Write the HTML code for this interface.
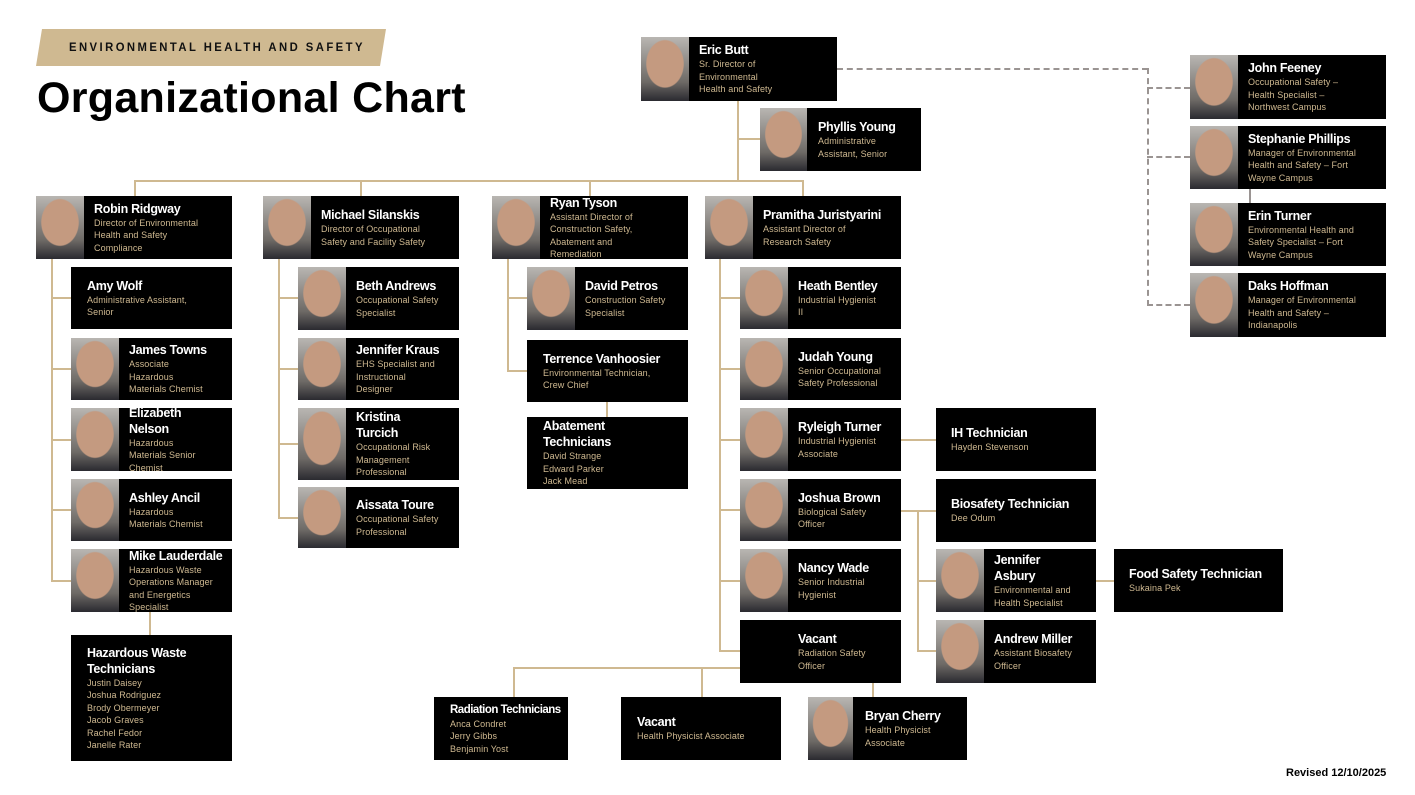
<!DOCTYPE html>
<html><head><meta charset="utf-8"><style>
*{margin:0;padding:0;box-sizing:border-box}
body{width:1415px;height:795px;background:#fff;position:relative;overflow:hidden;font-family:"Liberation Sans",Arial,sans-serif}
.b{position:absolute;background:#000;display:flex;flex-direction:column;justify-content:center;color:#fff}
.b .n{font-weight:bold;font-size:12.5px;line-height:16px;letter-spacing:-0.3px;white-space:nowrap}
.b .t{font-size:9px;line-height:12.5px;color:#cfb991;letter-spacing:0.1px}
.p{position:absolute;top:0;left:0;bottom:0;background:radial-gradient(ellipse 40% 38% at 50% 42%,#c49a80 0 95%,transparent 100%),linear-gradient(#b9b6b2,#6e6a66 70%,#2a2a30)}
.l{position:absolute;background:#cfb991}
.d{position:absolute;border-color:#9a9492;border-style:dashed;border-width:0}
</style></head><body>
<div style="position:absolute;left:36px;top:29px;width:350px;height:37px;background:#cfb991;clip-path:polygon(6px 0,100% 0,calc(100% - 6px) 100%,0 100%)"></div>
<div style="position:absolute;left:69px;top:40px;font-size:12px;font-weight:bold;letter-spacing:2.6px;color:#111;transform:scaleX(0.94);transform-origin:0 0;white-space:nowrap">ENVIRONMENTAL HEALTH AND SAFETY</div>
<div style="position:absolute;left:37px;top:74px;font-size:43px;font-weight:bold;color:#000;letter-spacing:0.3px">Organizational Chart</div>
<div style="position:absolute;left:1286px;top:767px;font-size:11px;font-weight:bold">Revised 12/10/2025</div>

<div class="l" style="left:737px;top:101px;width:2px;height:81px"></div>
<div class="l" style="left:737px;top:138px;width:23px;height:2px"></div>
<div class="l" style="left:134px;top:180px;width:670px;height:2px"></div>
<div class="l" style="left:134px;top:180px;width:2px;height:16px"></div>
<div class="l" style="left:360px;top:180px;width:2px;height:16px"></div>
<div class="l" style="left:589px;top:180px;width:2px;height:16px"></div>
<div class="l" style="left:802px;top:180px;width:2px;height:16px"></div>
<div class="l" style="left:51px;top:259px;width:2px;height:323px"></div>
<div class="l" style="left:51px;top:297px;width:20px;height:2px"></div>
<div class="l" style="left:51px;top:368px;width:20px;height:2px"></div>
<div class="l" style="left:51px;top:439px;width:20px;height:2px"></div>
<div class="l" style="left:51px;top:509px;width:20px;height:2px"></div>
<div class="l" style="left:51px;top:580px;width:20px;height:2px"></div>
<div class="l" style="left:149px;top:612px;width:2px;height:23px"></div>
<div class="l" style="left:278px;top:259px;width:2px;height:260px"></div>
<div class="l" style="left:278px;top:297px;width:20px;height:2px"></div>
<div class="l" style="left:278px;top:368px;width:20px;height:2px"></div>
<div class="l" style="left:278px;top:443px;width:20px;height:2px"></div>
<div class="l" style="left:278px;top:517px;width:20px;height:2px"></div>
<div class="l" style="left:507px;top:259px;width:2px;height:113px"></div>
<div class="l" style="left:507px;top:297px;width:20px;height:2px"></div>
<div class="l" style="left:507px;top:370px;width:20px;height:2px"></div>
<div class="l" style="left:606px;top:402px;width:2px;height:15px"></div>
<div class="l" style="left:719px;top:259px;width:2px;height:393px"></div>
<div class="l" style="left:719px;top:297px;width:21px;height:2px"></div>
<div class="l" style="left:719px;top:368px;width:21px;height:2px"></div>
<div class="l" style="left:719px;top:439px;width:21px;height:2px"></div>
<div class="l" style="left:719px;top:509px;width:21px;height:2px"></div>
<div class="l" style="left:719px;top:580px;width:21px;height:2px"></div>
<div class="l" style="left:719px;top:650px;width:21px;height:2px"></div>
<div class="l" style="left:901px;top:439px;width:35px;height:2px"></div>
<div class="l" style="left:901px;top:510px;width:35px;height:2px"></div>
<div class="l" style="left:917px;top:510px;width:2px;height:142px"></div>
<div class="l" style="left:917px;top:580px;width:19px;height:2px"></div>
<div class="l" style="left:917px;top:650px;width:19px;height:2px"></div>
<div class="l" style="left:1096px;top:580px;width:18px;height:2px"></div>
<div class="l" style="left:513px;top:667px;width:227px;height:2px"></div>
<div class="l" style="left:513px;top:667px;width:2px;height:30px"></div>
<div class="l" style="left:701px;top:667px;width:2px;height:30px"></div>
<div class="l" style="left:872px;top:683px;width:2px;height:14px"></div>
<div class="d" style="left:837px;top:68px;width:311px;border-top-width:2px"></div>
<div class="d" style="left:1147px;top:68px;height:238px;border-left-width:2px"></div>
<div class="d" style="left:1147px;top:87px;width:43px;border-top-width:2px"></div>
<div class="d" style="left:1147px;top:156px;width:43px;border-top-width:2px"></div>
<div class="d" style="left:1147px;top:304px;width:43px;border-top-width:2px"></div>
<div style="position:absolute;left:1249px;top:189px;width:2px;height:14px;background:#9a9492"></div>

<div class="b" style="left:641px;top:37px;width:196px;height:64px;padding-left:58px"><div class="p" style="width:48px"></div><div class="n">Eric Butt</div><div class="t">Sr. Director of<br>Environmental<br>Health and Safety</div></div>
<div class="b" style="left:760px;top:108px;width:161px;height:63px;padding-left:58px"><div class="p" style="width:47px"></div><div class="n">Phyllis Young</div><div class="t">Administrative<br>Assistant, Senior</div></div>
<div class="b" style="left:36px;top:196px;width:196px;height:63px;padding-left:58px"><div class="p" style="width:48px"></div><div class="n">Robin Ridgway</div><div class="t">Director of Environmental<br>Health and Safety<br>Compliance</div></div>
<div class="b" style="left:263px;top:196px;width:196px;height:63px;padding-left:58px"><div class="p" style="width:48px"></div><div class="n">Michael Silanskis</div><div class="t">Director of Occupational<br>Safety and Facility Safety</div></div>
<div class="b" style="left:492px;top:196px;width:196px;height:63px;padding-left:58px"><div class="p" style="width:48px"></div><div class="n">Ryan Tyson</div><div class="t">Assistant Director of<br>Construction Safety,<br>Abatement and<br>Remediation</div></div>
<div class="b" style="left:705px;top:196px;width:196px;height:63px;padding-left:58px"><div class="p" style="width:48px"></div><div class="n">Pramitha Juristyarini</div><div class="t">Assistant Director of<br>Research Safety</div></div>

<div class="b" style="left:71px;top:267px;width:161px;height:62px;padding-left:16px"><div class="n">Amy Wolf</div><div class="t">Administrative Assistant,<br>Senior</div></div>
<div class="b" style="left:71px;top:338px;width:161px;height:62px;padding-left:58px"><div class="p" style="width:48px"></div><div class="n">James Towns</div><div class="t">Associate<br>Hazardous<br>Materials Chemist</div></div>
<div class="b" style="left:71px;top:408px;width:161px;height:63px;padding-left:58px;overflow:hidden"><div class="p" style="width:48px"></div><div class="n">Elizabeth<br>Nelson</div><div class="t">Hazardous<br>Materials Senior<br>Chemist</div></div>
<div class="b" style="left:71px;top:479px;width:161px;height:62px;padding-left:58px"><div class="p" style="width:48px"></div><div class="n">Ashley Ancil</div><div class="t">Hazardous<br>Materials Chemist</div></div>
<div class="b" style="left:71px;top:549px;width:161px;height:63px;padding-left:58px"><div class="p" style="width:48px"></div><div class="n">Mike Lauderdale</div><div class="t">Hazardous Waste<br>Operations Manager<br>and Energetics<br>Specialist</div></div>
<div class="b" style="left:71px;top:635px;width:161px;height:126px;padding-left:16px"><div class="n">Hazardous Waste<br>Technicians</div><div class="t">Justin Daisey<br>Joshua Rodriguez<br>Brody Obermeyer<br>Jacob Graves<br>Rachel Fedor<br>Janelle Rater</div></div>

<div class="b" style="left:298px;top:267px;width:161px;height:63px;padding-left:58px"><div class="p" style="width:48px"></div><div class="n">Beth Andrews</div><div class="t">Occupational Safety<br>Specialist</div></div>
<div class="b" style="left:298px;top:338px;width:161px;height:62px;padding-left:58px"><div class="p" style="width:48px"></div><div class="n">Jennifer Kraus</div><div class="t">EHS Specialist and<br>Instructional<br>Designer</div></div>
<div class="b" style="left:298px;top:408px;width:161px;height:72px;padding-left:58px"><div class="p" style="width:48px"></div><div class="n">Kristina<br>Turcich</div><div class="t">Occupational Risk<br>Management<br>Professional</div></div>
<div class="b" style="left:298px;top:487px;width:161px;height:61px;padding-left:58px"><div class="p" style="width:48px"></div><div class="n">Aissata Toure</div><div class="t">Occupational Safety<br>Professional</div></div>

<div class="b" style="left:527px;top:267px;width:161px;height:63px;padding-left:58px"><div class="p" style="width:48px"></div><div class="n">David Petros</div><div class="t">Construction Safety<br>Specialist</div></div>
<div class="b" style="left:527px;top:340px;width:161px;height:62px;padding-left:16px"><div class="n">Terrence Vanhoosier</div><div class="t">Environmental Technician,<br>Crew Chief</div></div>
<div class="b" style="left:527px;top:417px;width:161px;height:72px;padding-left:16px"><div class="n">Abatement<br>Technicians</div><div class="t">David Strange<br>Edward Parker<br>Jack Mead</div></div>

<div class="b" style="left:740px;top:267px;width:161px;height:62px;padding-left:58px"><div class="p" style="width:48px"></div><div class="n">Heath Bentley</div><div class="t">Industrial Hygienist<br>II</div></div>
<div class="b" style="left:740px;top:338px;width:161px;height:62px;padding-left:58px"><div class="p" style="width:48px"></div><div class="n">Judah Young</div><div class="t">Senior Occupational<br>Safety Professional</div></div>
<div class="b" style="left:740px;top:408px;width:161px;height:63px;padding-left:58px"><div class="p" style="width:48px"></div><div class="n">Ryleigh Turner</div><div class="t">Industrial Hygienist<br>Associate</div></div>
<div class="b" style="left:740px;top:479px;width:161px;height:62px;padding-left:58px"><div class="p" style="width:48px"></div><div class="n">Joshua Brown</div><div class="t">Biological Safety<br>Officer</div></div>
<div class="b" style="left:740px;top:549px;width:161px;height:63px;padding-left:58px"><div class="p" style="width:48px"></div><div class="n">Nancy Wade</div><div class="t">Senior Industrial<br>Hygienist</div></div>
<div class="b" style="left:740px;top:620px;width:161px;height:63px;padding-left:58px"><div class="n">Vacant</div><div class="t">Radiation Safety<br>Officer</div></div>

<div class="b" style="left:936px;top:408px;width:160px;height:63px;padding-left:15px"><div class="n">IH Technician</div><div class="t">Hayden Stevenson</div></div>
<div class="b" style="left:936px;top:479px;width:160px;height:63px;padding-left:15px"><div class="n">Biosafety Technician</div><div class="t">Dee Odum</div></div>
<div class="b" style="left:936px;top:549px;width:160px;height:63px;padding-left:58px"><div class="p" style="width:48px"></div><div class="n">Jennifer<br>Asbury</div><div class="t">Environmental and<br>Health Specialist</div></div>
<div class="b" style="left:936px;top:620px;width:160px;height:63px;padding-left:58px"><div class="p" style="width:48px"></div><div class="n">Andrew Miller</div><div class="t">Assistant Biosafety<br>Officer</div></div>
<div class="b" style="left:1114px;top:549px;width:169px;height:63px;padding-left:15px"><div class="n">Food Safety Technician</div><div class="t">Sukaina Pek</div></div>

<div class="b" style="left:434px;top:697px;width:134px;height:63px;padding-left:16px"><div class="n" style="font-size:11.5px;letter-spacing:-0.5px">Radiation Technicians</div><div class="t">Anca Condret<br>Jerry Gibbs<br>Benjamin Yost</div></div>
<div class="b" style="left:621px;top:697px;width:160px;height:63px;padding-left:16px"><div class="n">Vacant</div><div class="t">Health Physicist Associate</div></div>
<div class="b" style="left:808px;top:697px;width:159px;height:63px;padding-left:57px"><div class="p" style="width:45px"></div><div class="n">Bryan Cherry</div><div class="t">Health Physicist<br>Associate</div></div>

<div class="b" style="left:1190px;top:55px;width:196px;height:64px;padding-left:58px"><div class="p" style="width:48px"></div><div class="n">John Feeney</div><div class="t">Occupational Safety –<br>Health Specialist –<br>Northwest Campus</div></div>
<div class="b" style="left:1190px;top:126px;width:196px;height:63px;padding-left:58px"><div class="p" style="width:48px"></div><div class="n">Stephanie Phillips</div><div class="t">Manager of Environmental<br>Health and Safety – Fort<br>Wayne Campus</div></div>
<div class="b" style="left:1190px;top:203px;width:196px;height:63px;padding-left:58px"><div class="p" style="width:48px"></div><div class="n">Erin Turner</div><div class="t">Environmental Health and<br>Safety Specialist – Fort<br>Wayne Campus</div></div>
<div class="b" style="left:1190px;top:273px;width:196px;height:64px;padding-left:58px"><div class="p" style="width:48px"></div><div class="n">Daks Hoffman</div><div class="t">Manager of Environmental<br>Health and Safety –<br>Indianapolis</div></div>
</body></html>
